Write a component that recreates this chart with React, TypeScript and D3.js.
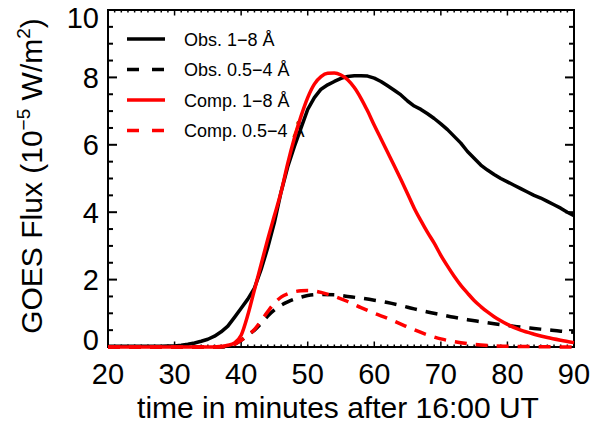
import React from "react";
import * as d3 from "d3";

const W = 592;
const H = 428;

// time axis (minutes after 16:00 UT)
const obsLongT = d3.range(20, 91);
const obsLong = [
  0.02, 0.02, 0.02, 0.02, 0.02, 0.02, 0.02, 0.02, 0.02, 0.03, 0.03,
  0.05, 0.08, 0.12, 0.17, 0.23, 0.32, 0.45, 0.62, 0.88, 1.15,
  1.42, 1.75, 2.3, 2.95, 3.7, 4.6, 5.35, 5.95, 6.5, 7.05,
  7.4, 7.65, 7.78, 7.88, 7.97, 8.03, 8.05, 8.05, 8.04, 7.98,
  7.88, 7.75, 7.62, 7.48, 7.3, 7.15, 7.05, 6.92, 6.78, 6.62,
  6.45, 6.25, 6.05, 5.8, 5.6, 5.4, 5.25, 5.12, 5.0, 4.9,
  4.8, 4.7, 4.6, 4.5, 4.42, 4.32, 4.22, 4.12, 4.0, 3.9,
];

const obsShortT = [20, 30, 37, 38, 39, 40, 41, 42, 43, 44, 45, 46, 47, 48, 49, 50, 52, 54, 56, 58, 60, 62, 64, 66, 68, 70, 72, 74, 76, 78, 80, 82, 84, 86, 88, 90];
const obsShort = [0, 0, 0, 0.02, 0.08, 0.2, 0.35, 0.5, 0.7, 0.92, 1.1, 1.24, 1.34, 1.42, 1.48, 1.53, 1.56, 1.55, 1.5, 1.45, 1.39, 1.32, 1.23, 1.13, 1.04, 0.96, 0.88, 0.81, 0.75, 0.69, 0.64, 0.59, 0.55, 0.51, 0.47, 0.44];

const compLongT = [20, 30, 36, 37, 38, 39, 40, 41, 42, 43, 44, 45, 46, 47, 48, 49, 50, 51, 52, 53, 54, 55, 56, 57, 58, 59, 60, 61, 62, 63, 64, 65, 66, 67, 68, 69, 70, 71, 72, 73, 74, 75, 76, 77, 78, 79, 80, 82, 84, 86, 88, 90];
const compLong = [0, 0, 0, 0.02, 0.05, 0.12, 0.35, 0.95, 1.7, 2.45, 3.2, 3.9, 4.6, 5.45, 6.2, 6.85, 7.4, 7.8, 8.02, 8.12, 8.13, 8.07, 7.93, 7.7, 7.38, 7.0, 6.58, 6.18, 5.78, 5.38, 4.97, 4.55, 4.12, 3.75, 3.4, 3.08, 2.72, 2.4, 2.1, 1.83, 1.6, 1.38, 1.2, 1.04, 0.9, 0.78, 0.67, 0.5, 0.38, 0.28, 0.2, 0.13];

const compShortT = [20, 30, 37, 38, 39, 40, 41, 42, 43, 44, 45, 46, 47, 48, 49, 50, 51, 52, 54, 56, 58, 60, 62, 64, 66, 68, 70, 72, 74, 76, 78, 80, 84, 90];
const compShort = [0, 0, 0, 0.03, 0.08, 0.2, 0.35, 0.52, 0.78, 1.05, 1.3, 1.48, 1.58, 1.64, 1.67, 1.68, 1.66, 1.62, 1.5, 1.35, 1.17, 1.0, 0.85, 0.68, 0.51, 0.36, 0.24, 0.16, 0.1, 0.06, 0.03, 0.02, 0.01, 0];

const xTicks = [20, 30, 40, 50, 60, 70, 80, 90];
const yTicks = [0, 2, 4, 6, 8, 10];

const legendLabels = ["Obs. 1\u22128 \u00C5", "Obs. 0.5\u22124 \u00C5", "Comp. 1\u22128 \u00C5", "Comp. 0.5\u22124 \u00C5"];
const legendColors = ["#000", "#000", "#ff0000", "#ff0000"];
const legendDashed = [false, true, false, true];

const FONT = "'Liberation Sans', Arial, Helvetica, sans-serif";

export default function App() {
  const left = 108, right = 574, top = 10, bottom = 347;
  const x = d3.scaleLinear().domain([20, 90]).range([left, right]);
  const y = d3.scaleLinear().domain([0, 10]).range([bottom, top]);

  const mk = (ts: number[], vs: number[], curve: any) =>
    d3.line<number>().x((_, i) => x(ts[i])).y((v) => y(v)).curve(curve)(vs) || "";

  const series = [
    { d: mk(obsLongT, obsLong, d3.curveLinear), color: legendColors[0], dash: legendDashed[0] },
    { d: mk(obsShortT, obsShort, d3.curveMonotoneX), color: legendColors[1], dash: legendDashed[1] },
    { d: mk(compLongT, compLong, d3.curveMonotoneX), color: legendColors[2], dash: legendDashed[2] },
    { d: mk(compShortT, compShort, d3.curveMonotoneX), color: legendColors[3], dash: legendDashed[3] },
  ];

  const xMinor = d3.range(20, 91, 1);
  const yMinor = d3.range(0, 10.01, 0.5);

  const labelShift = (v: number) => (v === 0 ? -8 : v === 10 ? 7 : 0);

  return (
    <svg width={W} height={H} style={{ position: "absolute", left: 0, top: 0, background: "#fff" }} fontFamily={FONT}>
      <rect x={0} y={0} width={W} height={H} fill="#fff" />
      {/* legend (drawn beneath curves) */}
      {legendLabels.map((lab, i) => {
        const ly = 39 + i * 30.5;
        return (
          <g key={lab}>
            <line x1={127} x2={165} y1={ly} y2={ly} stroke={legendColors[i]} strokeWidth={3.5}
              strokeDasharray={legendDashed[i] ? "12,13" : undefined} />
            <text x={184} y={ly + 6.5} fontSize={18} fill="#000">{lab}</text>
          </g>
        );
      })}

      {/* axes frame */}
      <g stroke="#000" fill="none">
        <rect x={left} y={top} width={right - left} height={bottom - top} strokeWidth={2} />
        {xMinor.map((t) => {
          const major = t % 10 === 0;
          const len = major ? 5.5 : 2.5;
          return (
            <g key={"xt" + t}>
              <line x1={x(t)} x2={x(t)} y1={bottom} y2={bottom - len} strokeWidth={1.5} />
              <line x1={x(t)} x2={x(t)} y1={top} y2={top + len} strokeWidth={1.5} />
            </g>
          );
        })}
        {yMinor.map((v) => {
          const major = Math.abs(v % 2) < 1e-6;
          const len = major ? 9 : 5;
          return (
            <g key={"yt" + v}>
              <line x1={left} x2={left + len} y1={y(v)} y2={y(v)} strokeWidth={2} />
              <line x1={right} x2={right - len} y1={y(v)} y2={y(v)} strokeWidth={2} />
            </g>
          );
        })}
      </g>

      {/* tick labels */}
      {xTicks.map((t) => (
        <text key={"xl" + t} x={x(t)} y={384} fontSize={29} textAnchor="middle" fill="#000">{t}</text>
      ))}
      {yTicks.map((v) => (
        <text key={"yl" + v} x={99} y={y(v) + 10.5 + labelShift(v)} fontSize={29} textAnchor="end" fill="#000">{v}</text>
      ))}

      {/* axis titles */}
      <text x={338} y={418} fontSize={30} textAnchor="middle" fill="#000">time in minutes after 16:00 UT</text>
      <text transform={`translate(42,176) rotate(-90)`} fontSize={30} textAnchor="middle" fill="#000">
        GOES Flux (10
        <tspan fontSize={19} dy={-12}>{"\u22125"}</tspan>
        <tspan dy={12}> W/m</tspan>
        <tspan fontSize={19} dy={-12}>2</tspan>
        <tspan dy={12}>)</tspan>
      </text>

      {/* curves */}
      {series.map((s, i) => (
        <path key={"s" + i} d={s.d} fill="none" stroke={s.color} strokeWidth={3.5}
          strokeDasharray={s.dash ? "12,9" : undefined} strokeLinejoin="round" />
      ))}
    </svg>
  );
}
